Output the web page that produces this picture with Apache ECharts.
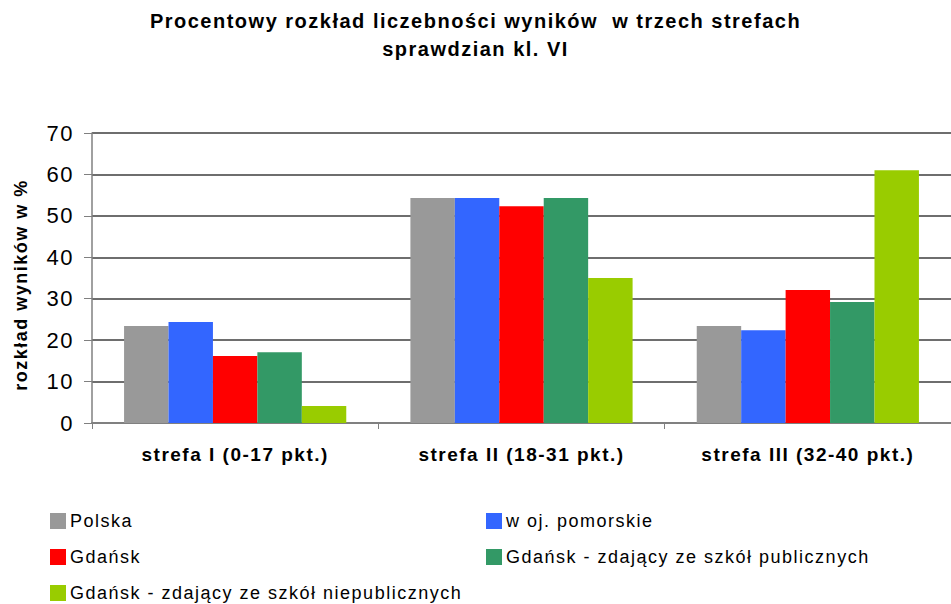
<!DOCTYPE html>
<html lang="pl" style="height: 100%">
<head>
  <meta charset="utf-8">
  <style>
    /* the reference draws its text with wide letter spacing */
    #container svg text { letter-spacing: 1.5px; }
  </style>
</head>
<body style="height: 100%; margin: 0; background: #fff">
  <div id="container" style="width: 951px; height: 604px"></div>

  <script type="text/javascript" src="https://fastly.jsdelivr.net/npm/echarts@6/dist/echarts.min.js"></script>
  <script type="text/javascript">
    var categories = ['strefa I (0-17 pkt.)', 'strefa II (18-31 pkt.)', 'strefa III (32-40 pkt.)'];
    var seriesNames = [
      'Polska',
      'w oj. pomorskie',
      'Gdańsk',
      'Gdańsk - zdający ze szkół publicznych',
      'Gdańsk - zdający ze szkół niepublicznych'
    ];
    var polska = [23.4, 54.3, 23.4];
    var pomorskie = [24.4, 54.3, 22.4];
    var gdansk = [16.2, 52.3, 32.1];
    var publiczne = [17.1, 54.3, 29.2];
    var niepubliczne = [4.1, 35.0, 61.0];
    var yTicks = [0, 10, 20, 30, 40, 50, 60, 70];

    var colors = ['#999999', '#3366ff', '#ff0000', '#339966', '#99cc00'];
    var values = [polska, pomorskie, gdansk, publiczne, niepubliczne];
    var FONT = 'Liberation Sans, Arial, sans-serif';

    var dom = document.getElementById('container');
    var myChart = echarts.init(dom, null, { renderer: 'svg' });

    // legend: two columns, three rows
    var legendPos = [
      { left: 50, top: 512 },
      { left: 486, top: 512 },
      { left: 50, top: 548 },
      { left: 486, top: 548 },
      { left: 50, top: 584 }
    ];
    var legends = seriesNames.map(function (name, i) {
      return {
        data: [name],
        left: legendPos[i].left,
        top: legendPos[i].top,
        itemWidth: 16,
        itemHeight: 16,
        padding: 0,
        icon: 'rect',
        selectedMode: false,
        textStyle: {
          fontFamily: FONT,
          fontSize: 18,
          color: '#000',
          padding: [0, 0, 0, -1]
        }
      };
    });

    var option = {
      animation: false,
      color: colors,
      title: {
        text: 'Procentowy rozkład liczebności wyników  w trzech strefach\nsprawdzian kl. VI',
        left: 'center',
        top: 2,
        textStyle: {
          fontFamily: FONT,
          fontSize: 20,
          fontWeight: 'bold',
          color: '#000',
          lineHeight: 28
        }
      },
      legend: legends,
      grid: {
        left: 92,
        width: 871,
        top: 133,
        bottom: 181
      },
      xAxis: {
        type: 'category',
        data: categories,
        axisLine: { lineStyle: { color: '#808080', width: 2 } },
        axisTick: { show: true, length: 6, lineStyle: { color: '#808080', width: 1 } },
        axisLabel: {
          margin: 22,
          fontFamily: FONT,
          fontSize: 19,
          fontWeight: 'bold',
          color: '#000'
        }
      },
      yAxis: {
        type: 'value',
        min: yTicks[0],
        max: yTicks[yTicks.length - 1],
        interval: 10,
        name: 'rozkład wyników w %',
        nameLocation: 'middle',
        nameGap: 62,
        nameTextStyle: {
          fontFamily: FONT,
          fontSize: 18,
          fontWeight: 'bold',
          color: '#000',
          padding: [0, 14, 0, 0]
        },
        axisLine: { show: true, lineStyle: { color: '#808080', width: 1.5 } },
        axisTick: { show: true, length: 8, lineStyle: { color: '#808080' } },
        axisLabel: {
          margin: 18,
          fontFamily: FONT,
          fontSize: 22,
          color: '#000'
        },
        splitLine: { lineStyle: { color: '#6e6e6e', width: 2 } }
      },
      series: seriesNames.map(function (name, i) {
        return {
          name: name,
          type: 'bar',
          data: values[i],
          barGap: '0%',
          barCategoryGap: '22.4%',
          itemStyle: { color: colors[i] }
        };
      })
    };

    myChart.setOption(option);
    window.addEventListener('resize', myChart.resize);
  </script>
</body>
</html>
